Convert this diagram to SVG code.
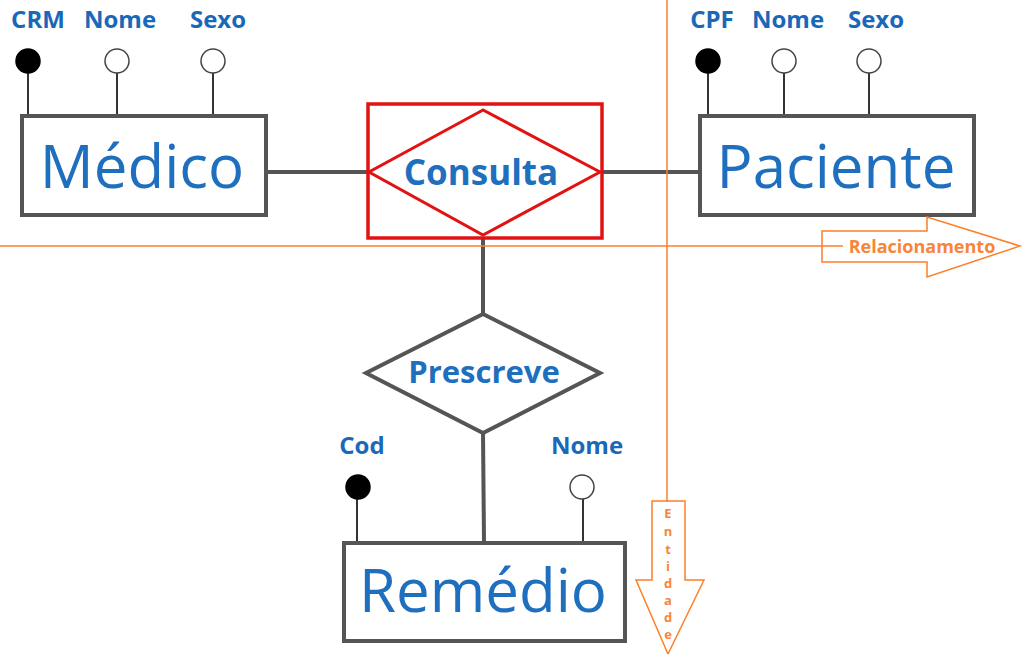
<svg xmlns="http://www.w3.org/2000/svg" width="1022" height="654" viewBox="0 0 1022 654">
<style>
.ent{fill:#fff;stroke:#555;stroke-width:4}
.big{font-family:"Open Sans","Liberation Sans",sans-serif;font-size:60px;fill:#1f6fbf;text-anchor:middle}
.rel{font-family:"Open Sans","Liberation Sans",sans-serif;font-weight:700;fill:#1f6fbf;text-anchor:middle}
.lbl{font-family:"Open Sans","Liberation Sans",sans-serif;font-weight:700;font-size:24px;fill:#1a68b8;text-anchor:middle}
.conn{stroke:#555;stroke-width:4;fill:none}
.att{stroke:#333;stroke-width:2;fill:none}
.key{fill:#000;stroke:#000;stroke-width:1.5}
.opt{fill:#fff;stroke:#444;stroke-width:1.5}
.or{stroke:#ff7f27;stroke-width:1.5;fill:none}
.ortxt{font-family:"Open Sans","Liberation Sans",sans-serif;font-weight:700;fill:#f8853a;text-anchor:middle}
</style>
<rect width="1022" height="654" fill="#fff"/>
<g id="connectors">
<line class="conn" x1="266" y1="172" x2="368" y2="172"/>
<line class="conn" x1="601" y1="172" x2="700" y2="172"/>
<line class="conn" x1="483" y1="236" x2="483" y2="314"/>
<line class="conn" x1="483" y1="432" x2="484" y2="542"/>
</g>
<g id="medico">
<line class="att" x1="28" y1="72" x2="28" y2="115"/>
<line class="att" x1="117" y1="72" x2="117" y2="115"/>
<line class="att" x1="213" y1="72" x2="213" y2="115"/>
<circle class="key" cx="28" cy="61" r="12"/>
<circle class="opt" cx="117" cy="61" r="12"/>
<circle class="opt" cx="213" cy="61" r="12"/>
<text class="lbl" x="38" y="28">CRM</text>
<text class="lbl" x="120" y="28">Nome</text>
<text class="lbl" x="218" y="28">Sexo</text>
<rect class="ent" x="22" y="116" width="244" height="99"/>
<text class="big" x="142" y="188">Médico</text>
</g>
<g id="paciente">
<line class="att" x1="708" y1="72" x2="708" y2="115"/>
<line class="att" x1="784" y1="72" x2="784" y2="115"/>
<line class="att" x1="869" y1="72" x2="869" y2="115"/>
<circle class="key" cx="708" cy="61" r="12"/>
<circle class="opt" cx="784" cy="61" r="12"/>
<circle class="opt" cx="869" cy="61" r="12"/>
<text class="lbl" x="712" y="28">CPF</text>
<text class="lbl" x="788" y="28">Nome</text>
<text class="lbl" x="876" y="28">Sexo</text>
<rect class="ent" x="700" y="116" width="274" height="99"/>
<text class="big" x="836" y="188">Paciente</text>
</g>
<g id="consulta">
<rect x="368" y="104" width="234" height="134" fill="#fff" stroke="#e31212" stroke-width="3.5"/>
<polygon points="483,110 369,172 483,235 600,172" fill="#fff" stroke="#e31212" stroke-width="3"/>
<text class="rel" x="481" y="185" font-size="35">Consulta</text>
</g>
<g id="prescreve">
<polygon points="483,314 366,373 483,433 600,373" fill="#fff" stroke="#555" stroke-width="4"/>
<text class="rel" x="484" y="383" font-size="31">Prescreve</text>
</g>
<g id="remedio">
<line class="att" x1="357" y1="498" x2="357" y2="543"/>
<line class="att" x1="583" y1="498" x2="583" y2="543"/>
<circle class="key" cx="358" cy="487" r="12"/>
<circle class="opt" cx="582" cy="487" r="12"/>
<text class="lbl" x="362" y="454">Cod</text>
<text class="lbl" x="587" y="454">Nome</text>
<rect class="ent" x="344" y="543" width="281" height="98"/>
<text class="big" x="483" y="612">Remédio</text>
</g>
<g id="annotations">
<line class="or" x1="0" y1="246" x2="843" y2="246"/>
<line class="or" x1="667" y1="0" x2="667" y2="502"/>
<polygon class="or" points="822,231 927,231 927,217 1020,246 927,277 927,262 822,262"/>
<text class="ortxt" x="922" y="253" font-size="18">Relacionamento</text>
<polygon class="or" points="652,501 685,501 685,580 704,580 668,654 636,580 652,580"/>
<g class="ortxt" font-size="13">
<text x="668" y="518">E</text>
<text x="668" y="536">n</text>
<text x="668" y="554">t</text>
<text x="668" y="571">i</text>
<text x="668" y="588">d</text>
<text x="668" y="605">a</text>
<text x="668" y="622">d</text>
<text x="668" y="639">e</text>
</g>
</g>
</svg>
